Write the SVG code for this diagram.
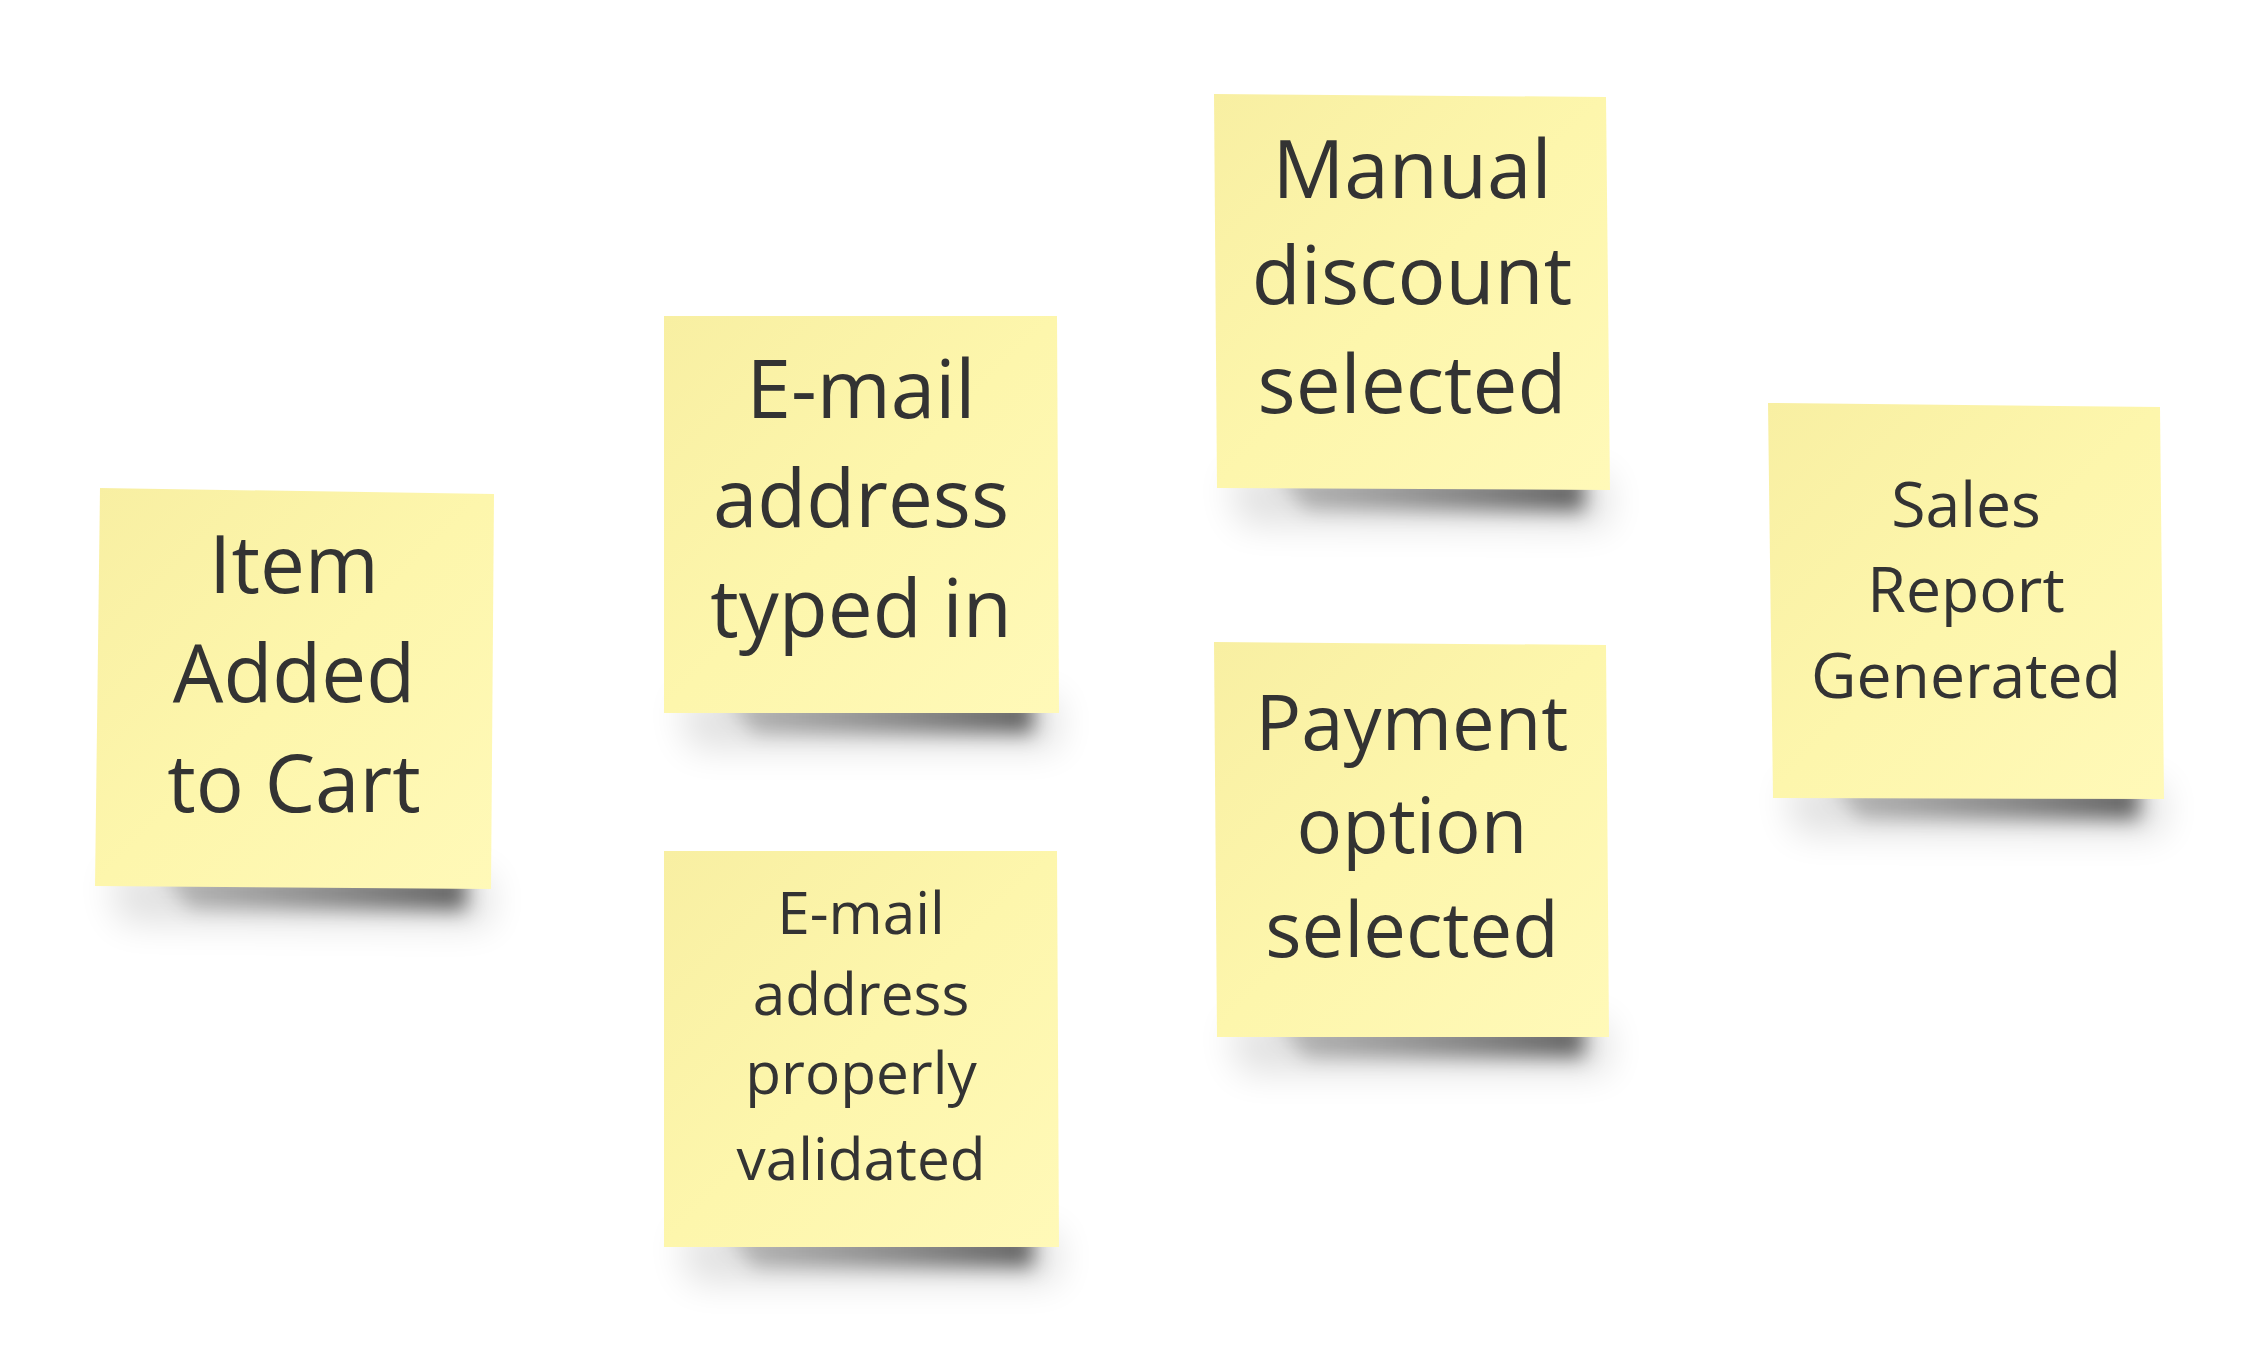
<svg xmlns="http://www.w3.org/2000/svg" width="2248" height="1350" viewBox="0 0 2248 1350">
<defs>
<linearGradient id="paper" x1="0" y1="0" x2="1" y2="1">
<stop offset="0" stop-color="#f8efa2"/>
<stop offset="0.5" stop-color="#fdf6ac"/>
<stop offset="1" stop-color="#fff9b8"/>
</linearGradient>
<linearGradient id="shade" x1="0" y1="0" x2="1" y2="0">
<stop offset="0" stop-color="#000" stop-opacity="0.2"/>
<stop offset="0.6" stop-color="#000" stop-opacity="0.42"/>
<stop offset="1" stop-color="#000" stop-opacity="0.58"/>
</linearGradient>
<filter id="blur" x="-20%" y="-100%" width="140%" height="300%">
<feGaussianBlur stdDeviation="10"/>
</filter>
<filter id="halo" x="-30%" y="-200%" width="160%" height="500%">
<feGaussianBlur stdDeviation="18"/>
</filter>
</defs>
<style>
.paper{fill:url(#paper);}
.shadow{fill:url(#shade);filter:url(#blur);}
.halo{fill:#000;opacity:0.12;filter:url(#halo);}
.lbl{font-family:"Open Sans","Noto Sans","Liberation Sans",sans-serif;fill:#333333;text-anchor:middle;}
.big{font-size:80px;}
.pay{font-size:76px;}
.mid{font-size:62.5px;}
.sm{font-size:58.5px;}
</style>
<rect width="2248" height="1350" fill="#ffffff"/>
<g id="connectors"/>

<g id="item-added">
<polygon class="halo" points="110,872 490,875 490,925 120,922"/>
<polygon class="shadow" points="160,872 466,875 466,910 190,908"/>
<polygon class="paper" points="100,488 494,494 491,889 95,886"/>
<text class="lbl big" x="294"><tspan x="294" y="593">Item</tspan><tspan x="294" y="702">Added</tspan><tspan x="294" y="812">to Cart</tspan></text>
</g>

<g id="email-typed">
<polygon class="halo" points="680,698 1058,698 1058,748 690,748"/>
<polygon class="shadow" points="725,698 1033,698 1033,733 755,733"/>
<polygon class="paper" points="664,316 1057,316 1059,713 664,713"/>
<text class="lbl big" x="861"><tspan x="861" y="418">E-mail</tspan><tspan x="861" y="527">address</tspan><tspan x="861" y="637">typed in</tspan></text>
</g>

<g id="email-validated">
<polygon class="halo" points="680,1232 1058,1232 1058,1282 690,1282"/>
<polygon class="shadow" points="725,1232 1033,1232 1033,1267 755,1267"/>
<polygon class="paper" points="664,851 1057,851 1059,1247 664,1247"/>
<text class="lbl sm" x="861"><tspan x="861" y="934">E-mail</tspan><tspan x="861" y="1015">address</tspan><tspan x="861" y="1094">properly</tspan><tspan x="861" y="1180">validated</tspan></text>
</g>

<g id="manual-discount">
<polygon class="halo" points="1230,474 1608,476 1608,526 1240,524"/>
<polygon class="shadow" points="1276,474 1584,476 1584,511 1306,509"/>
<polygon class="paper" points="1214,94 1606,97 1610,490 1217,488"/>
<text class="lbl big" x="1412"><tspan x="1412" y="198">Manual</tspan><tspan x="1412" y="304">discount</tspan><tspan x="1412" y="413">selected</tspan></text>
</g>

<g id="payment-option">
<polygon class="halo" points="1230,1022 1608,1022 1608,1072 1240,1072"/>
<polygon class="shadow" points="1276,1022 1584,1022 1584,1057 1306,1057"/>
<polygon class="paper" points="1214,642 1606,645 1609,1037 1217,1037"/>
<text class="lbl pay" x="1412"><tspan x="1412" y="750">Payment</tspan><tspan x="1412" y="853">option</tspan><tspan x="1412" y="957">selected</tspan></text>
</g>

<g id="sales-report">
<polygon class="halo" points="1786,783 2163,784 2163,834 1796,833"/>
<polygon class="shadow" points="1830,783 2139,784 2139,819 1860,818"/>
<polygon class="paper" points="1768,403 2160,407 2164,799 1773,798"/>
<text class="lbl mid" x="1966"><tspan x="1966" y="527">Sales</tspan><tspan x="1966" y="612">Report</tspan><tspan x="1966" y="698">Generated</tspan></text>
</g>
</svg>
